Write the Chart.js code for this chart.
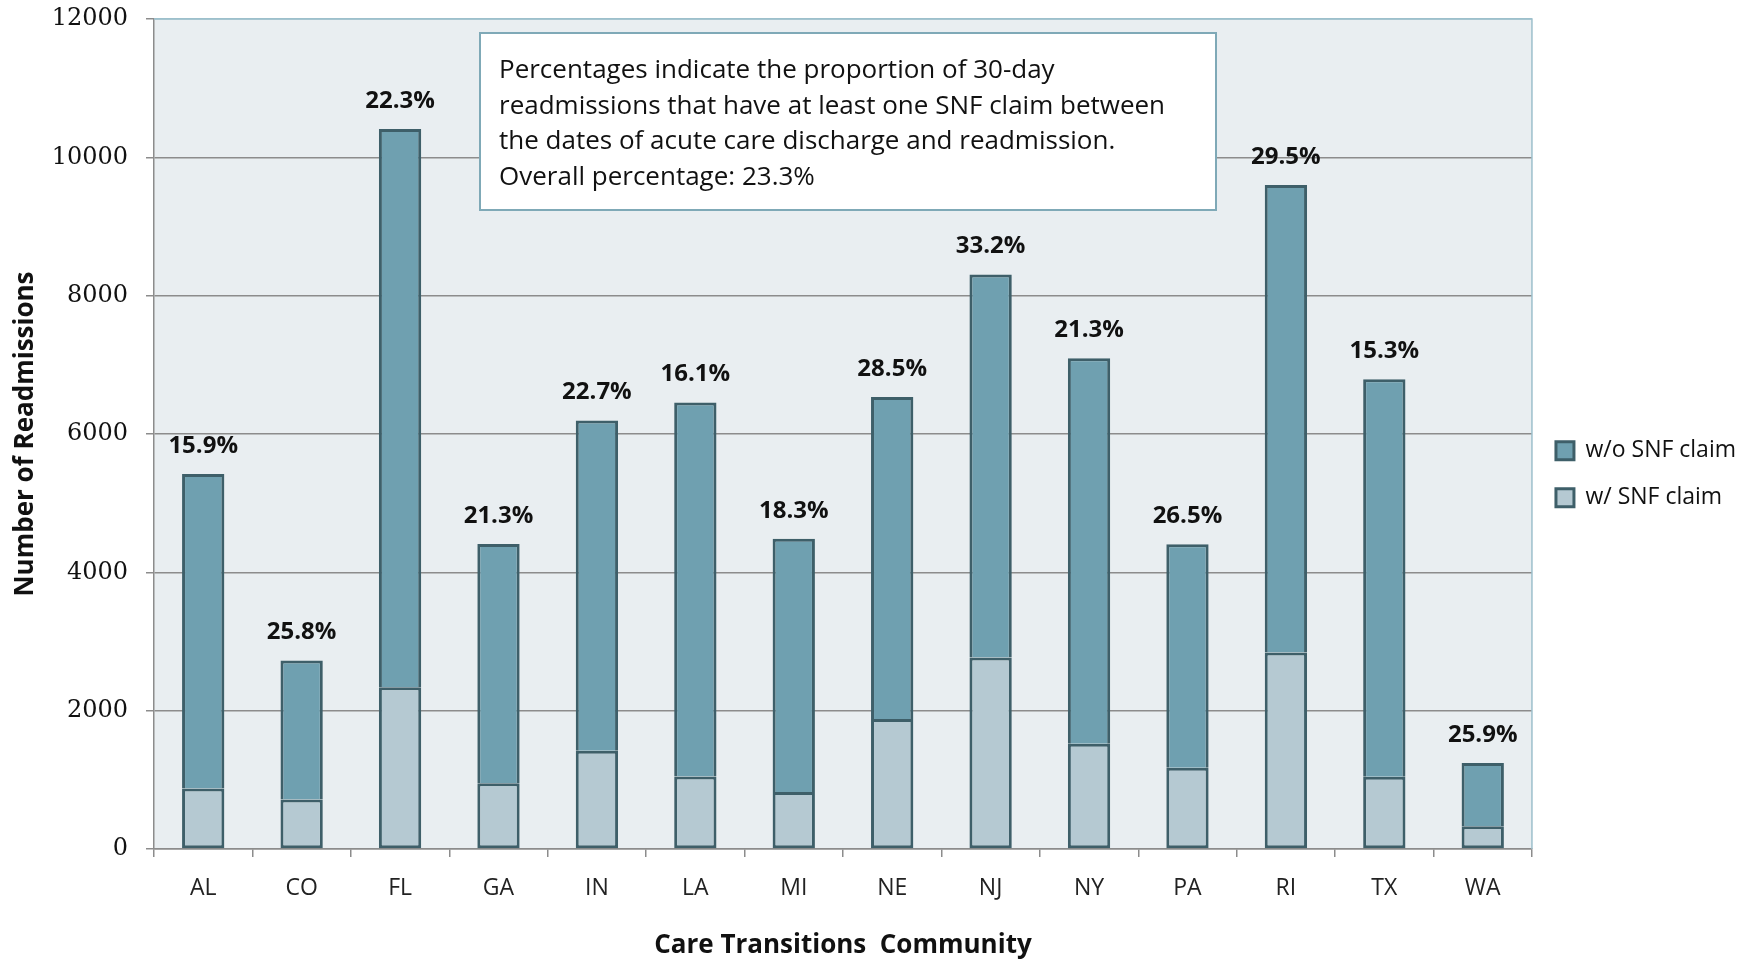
<!DOCTYPE html>
<html>
<head>
<meta charset="utf-8">
<script src="https://cdn.jsdelivr.net/npm/chart.js@4.4.0/dist/chart.umd.min.js"></script>
<style>
  html, body { margin: 0; padding: 0; background: #ffffff; }
  #wrap { width: 1747px; height: 963px; }
</style>
</head>
<body>
<div id="wrap"><canvas id="chart" width="1747" height="963"></canvas></div>
<script>
// categories and values
const communities = ['AL', 'CO', 'FL', 'GA', 'IN', 'LA', 'MI', 'NE', 'NJ', 'NY', 'PA', 'RI', 'TX', 'WA'];
const withSnf = [875, 715, 2340, 950, 1420, 1050, 825, 1880, 2770, 1520, 1175, 2840, 1045, 330];
const withoutSnf = [4545, 2010, 8070, 3460, 4775, 5405, 3660, 4655, 5535, 5575, 3230, 6760, 5745, 915];
const pctLabels = ['15.9%', '25.8%', '22.3%', '21.3%', '22.7%', '16.1%', '18.3%', '28.5%', '33.2%', '21.3%', '26.5%', '29.5%', '15.3%', '25.9%'];
const yTicks = [0, 2000, 4000, 6000, 8000, 10000, 12000];
const noteLines = [
  'Percentages indicate the proportion of 30-day',
  'readmissions that have at least one SNF claim between',
  'the dates of acute care discharge and readmission.',
  'Overall percentage: 23.3%'
];

Chart.defaults.font.family = 'Open Sans';
Chart.defaults.color = '#1a1a1a';

const gridGray = '#8c8c8c';
const edgeBlue = '#9dc0cc';

// plot background + outline on the top/right
const plotFrame = {
  id: 'plotFrame',
  beforeDraw(chart) {
    const { ctx, chartArea: a } = chart;
    ctx.save();
    ctx.fillStyle = '#e9eef1';
    ctx.fillRect(a.left, a.top, a.right - a.left, a.bottom - a.top);
    ctx.restore();
  },
  afterDraw(chart) {
    const { ctx, chartArea: a } = chart;
    ctx.save();
    ctx.strokeStyle = edgeBlue;
    ctx.lineWidth = 1.5;
    ctx.beginPath();
    ctx.moveTo(a.left, a.top);
    ctx.lineTo(a.right, a.top);
    ctx.lineTo(a.right, a.bottom);
    ctx.stroke();
    ctx.restore();
  }
};

// percentage above each stack
const pctPlugin = {
  id: 'pctPlugin',
  afterDatasetsDraw(chart) {
    const { ctx } = chart;
    const meta = chart.getDatasetMeta(1);
    ctx.save();
    ctx.font = 'bold 24px "Open Sans"';
    ctx.fillStyle = '#111';
    ctx.textAlign = 'center';
    ctx.textBaseline = 'middle';
    meta.data.forEach((bar, i) => {
      ctx.fillText(pctLabels[i], bar.x, bar.y - 28);
    });
    ctx.restore();
  }
};

// note box in the upper middle
const notePlugin = {
  id: 'notePlugin',
  afterDraw(chart) {
    const { ctx } = chart;
    ctx.save();
    ctx.fillStyle = '#ffffff';
    ctx.fillRect(480, 33, 736, 177);
    ctx.strokeStyle = '#7fa9b7';
    ctx.lineWidth = 2;
    ctx.strokeRect(480, 33, 736, 177);
    ctx.fillStyle = '#111';
    ctx.font = '26px "Open Sans"';
    ctx.textAlign = 'left';
    ctx.textBaseline = 'alphabetic';
    noteLines.forEach((line, i) => {
      ctx.fillText(line, 499, 78 + i * 35.6);
    });
    ctx.restore();
  }
};

new Chart(document.getElementById('chart'), {
  type: 'bar',
  data: {
    labels: communities,
    datasets: [
      {
        label: 'w/ SNF claim',
        data: withSnf,
        backgroundColor: '#b5c9d2',
        borderColor: '#3e5f69',
        borderWidth: 3,
        borderSkipped: false
      },
      {
        label: 'w/o SNF claim',
        data: withoutSnf,
        backgroundColor: '#6fa0b0',
        borderColor: '#3e5f69',
        borderWidth: 3,
        borderSkipped: 'bottom'
      }
    ]
  },
  options: {
    responsive: false,
    animation: false,
    layout: { padding: { top: 19, right: 1, left: 0, bottom: 0 } },
    datasets: { bar: { categoryPercentage: 1, barPercentage: 0.43 } },
    plugins: {
      tooltip: { enabled: false },
      legend: {
        position: 'right',
        fullSize: false,
        reverse: true,
        title: { display: true, text: '', font: { size: 12 }, padding: { top: 33, bottom: 33 } },
        labels: {
          boxWidth: 18,
          boxHeight: 18,
          padding: 24,
          color: '#111',
          font: { size: 23 }
        }
      }
    },
    scales: {
      x: {
        stacked: true,
        afterFit(scale) { scale.height = 114; },
        grid: { drawOnChartArea: false, drawTicks: true, tickLength: 8, color: gridGray, lineWidth: 1.5 },
        border: { color: gridGray, width: 1.5 },
        ticks: { padding: 18, color: '#222', font: { size: 23 } },
        title: {
          display: true,
          text: 'Care Transitions  Community',
          font: { size: 26, weight: 'bold' },
          color: '#111',
          padding: { top: 0, bottom: 1.5 }
        }
      },
      y: {
        stacked: true,
        min: 0,
        max: 12000,
        afterFit(scale) {
          scale.width = 154;
          scale.paddingTop = 0;
        },
        afterBuildTicks(scale) {
          scale.ticks = yTicks.map(v => ({ value: v }));
        },
        grid: {
          color: c => (c.tick && c.tick.value === 12000 ? edgeBlue : gridGray),
          lineWidth: 1.5,
          tickLength: 8,
          tickColor: gridGray
        },
        border: { color: gridGray, width: 1.5 },
        ticks: {
          padding: 18,
          color: '#111',
          font: { family: 'DejaVu Serif', size: 24 },
          callback: v => String(v)
        },
        title: {
          display: true,
          text: 'Number of Readmissions',
          font: { size: 26, weight: 'bold' },
          color: '#111',
          padding: { top: 9.5, bottom: 0 }
        }
      }
    }
  },
  plugins: [plotFrame, pctPlugin, notePlugin]
});
</script>
</body>
</html>
